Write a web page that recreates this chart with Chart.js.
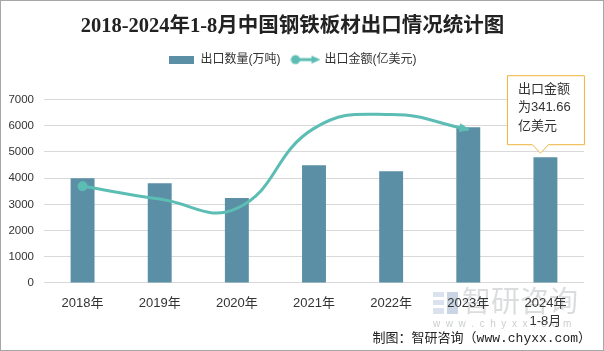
<!DOCTYPE html>
<html>
<head>
<meta charset="utf-8">
<script src="https://cdn.jsdelivr.net/npm/chart.js@4"></script>
<style>
  html, body { margin: 0; padding: 0; background: #fff; }
  #wrap { width: 602px; height: 349px; border: 1px solid #a6a6a6; background: #fff; }
</style>
</head>
<body>
<div id="wrap"><canvas id="chart" width="602" height="349"></canvas></div>
<script>
const categories = ['2018年', '2019年', '2020年', '2021年', '2022年', '2023年', ['2024年', '1-8月']];
const exportVolume = [4000, 3810, 3240, 4490, 4260, 5940, 4800];   // 出口数量(万吨)
const exportValue = [369, 320, 285, 590, 643, 586, null];          // 出口金额(亿美元), hidden axis
const latestValue = 341.66;
const yMax = 7000;
const yStep = 1000;

const barColor = '#5b8fa6';
const lineColor = '#5bbdb4';
const sans = "'Liberation Sans','Noto Sans CJK SC',sans-serif";

// legend icons
function makeBarIcon() {
  const c = document.createElement('canvas');
  c.width = 25; c.height = 8;
  const g = c.getContext('2d');
  g.fillStyle = barColor;
  g.fillRect(0, 0, 25, 8);
  return c;
}
function makeLineIcon() {
  const c = document.createElement('canvas');
  c.width = 30; c.height = 12;
  const g = c.getContext('2d');
  g.strokeStyle = lineColor; g.fillStyle = lineColor; g.lineWidth = 3;
  g.beginPath(); g.moveTo(5, 6); g.lineTo(23, 6); g.stroke();
  g.beginPath(); g.arc(5, 6, 4.5, 0, Math.PI * 2); g.fill();
  g.beginPath(); g.moveTo(30, 6); g.lineTo(21, 2); g.lineTo(21, 10); g.closePath(); g.fill();
  return c;
}
const barIcon = makeBarIcon();
const lineIcon = makeLineIcon();

const decor = {
  id: 'decor',
  beforeDraw(chart) {
    const ctx = chart.ctx;
    ctx.save();
    // watermark logo
    ctx.fillStyle = 'rgba(120,150,190,0.28)';
    ctx.fillRect(432, 291, 11, 5);
    ctx.fillRect(432, 299, 11, 5);
    ctx.fillRect(432, 307, 11, 6);
    ctx.fillStyle = 'rgba(120,150,190,0.4)';
    ctx.fillRect(446, 291, 11, 22);
    ctx.fillStyle = 'rgba(150,155,160,0.35)';
    ctx.font = "29px 'Noto Sans CJK SC'";
    ctx.textBaseline = 'middle';
    ctx.fillText('智研咨询', 461, 300);
    ctx.font = "10px 'Liberation Sans'";
    ctx.fillStyle = 'rgba(150,155,160,0.5)';
    ctx.fillText('w  w  w  .  c  h  y  x  x  .  c  o  m', 432, 323);
    ctx.restore();
  },
  afterDatasetsDraw(chart) {
    const ctx = chart.ctx;
    // arrow head at the end of the line
    const meta = chart.getDatasetMeta(0);
    let last = null;
    meta.data.forEach((p, i) => { if (exportValue[i] != null) last = p; });
    if (last) {
      const dx = last.x - last.cp1x, dy = last.y - last.cp1y;
      const a = Math.atan2(dy, dx);
      ctx.save();
      ctx.translate(last.x, last.y);
      ctx.rotate(a);
      ctx.fillStyle = lineColor;
      ctx.beginPath();
      ctx.moveTo(2, 0); ctx.lineTo(-9, -4.5); ctx.lineTo(-9, 4.5); ctx.closePath();
      ctx.fill();
      ctx.restore();
    }
  },
  afterDraw(chart) {
    const ctx = chart.ctx;
    // callout for 2024
    const bars = chart.getDatasetMeta(1).data;
    const bar = bars[bars.length - 1];
    const w = 77, h = 69;
    const tipX = bar.x - 5, tipY = bar.y - 4;
    let left = Math.min(bar.x - w / 2, chart.width - 8 - w);
    const bottom = tipY - 9;
    const top = bottom - h;
    ctx.save();
    ctx.fillStyle = '#fff';
    ctx.strokeStyle = '#f0b43c';
    ctx.lineWidth = 1;
    ctx.beginPath();
    ctx.moveTo(left + 0.5, top + 0.5);
    ctx.lineTo(left + w + 0.5, top + 0.5);
    ctx.lineTo(left + w + 0.5, bottom + 0.5);
    ctx.lineTo(tipX + 8, bottom + 0.5);
    ctx.lineTo(tipX, tipY);
    ctx.lineTo(tipX - 8, bottom + 0.5);
    ctx.lineTo(left + 0.5, bottom + 0.5);
    ctx.closePath();
    ctx.fill(); ctx.stroke();
    ctx.fillStyle = '#333';
    ctx.font = "13px 'Liberation Sans','Noto Sans CJK SC'";
    ctx.textBaseline = 'middle';
    ctx.fillText('出口金额', left + 11, top + 14);
    ctx.fillText('为' + latestValue.toFixed(2), left + 11, top + 32);
    ctx.fillText('亿美元', left + 11, top + 51);
    // credit
    ctx.font = "13px 'Liberation Mono','Noto Sans CJK SC'";
    ctx.textAlign = 'right';
    ctx.fillStyle = '#222';
    ctx.fillText('制图：智研咨询（www.chyxx.com）', chart.width - 12, 338);
    ctx.restore();
  }
};

new Chart(document.getElementById('chart'), {
  type: 'bar',
  data: {
    labels: categories,
    datasets: [
      {
        type: 'line',
        label: '出口金额(亿美元)',
        data: exportValue,
        yAxisID: 'y1',
        borderColor: lineColor,
        backgroundColor: lineColor,
        borderWidth: 3,
        tension: 0.45,
        pointRadius: exportValue.map((v, i) => i === 0 ? 5 : 0),
        pointBorderWidth: 0,
        spanGaps: false
      },
      {
        label: '出口数量(万吨)',
        data: exportVolume,
        backgroundColor: barColor,
        categoryPercentage: 1,
        barPercentage: 0.31
      }
    ]
  },
  options: {
    responsive: false,
    animation: false,
    devicePixelRatio: 1,
    layout: { padding: { left: 0, right: 19, top: 0, bottom: 8 } },
    plugins: {
      tooltip: { enabled: false },
      title: {
        display: true,
        text: '2018-2024年1-8月中国钢铁板材出口情况统计图',
        color: '#222',
        font: { family: "'Liberation Serif','Noto Sans CJK SC',serif", size: 20.5, weight: 'bold' },
        padding: { top: 13, bottom: 3 }
      },
      legend: {
        display: true,
        labels: {
          usePointStyle: true,
          pointStyleWidth: 26,
          padding: 12,
          color: '#333',
          font: { family: sans, size: 12 },
          generateLabels: chart => [
            { text: '出口数量(万吨)', pointStyle: barIcon, datasetIndex: 1, fontColor: '#333', lineWidth: 0, hidden: false },
            { text: '出口金额(亿美元)', pointStyle: lineIcon, datasetIndex: 0, fontColor: '#333', lineWidth: 0, hidden: false }
          ]
        },
        onClick: () => {}
      },
      subtitle: {
        display: true,
        weight: 500,
        text: ' ',
        font: { size: 10 },
        padding: { top: 6, bottom: 6 }
      }
    },
    scales: {
      x: {
        grid: { display: false, drawTicks: false },
        border: { display: false },
        ticks: { color: '#333', font: { family: sans, size: 13, lineHeight: 1.35 }, padding: 12, maxRotation: 0 }
      },
      y: {
        min: 0,
        max: yMax,
        afterFit: s => { s.width = 43; },
        ticks: { stepSize: yStep, color: '#333', font: { family: sans, size: 11.5 }, padding: 10, callback: v => String(v) },
        grid: { color: '#d9d9d9', drawTicks: false },
        border: { display: false }
      },
      y1: { display: false, min: 0, max: 700 }
    }
  },
  plugins: [decor]
});
</script>
</body>
</html>
